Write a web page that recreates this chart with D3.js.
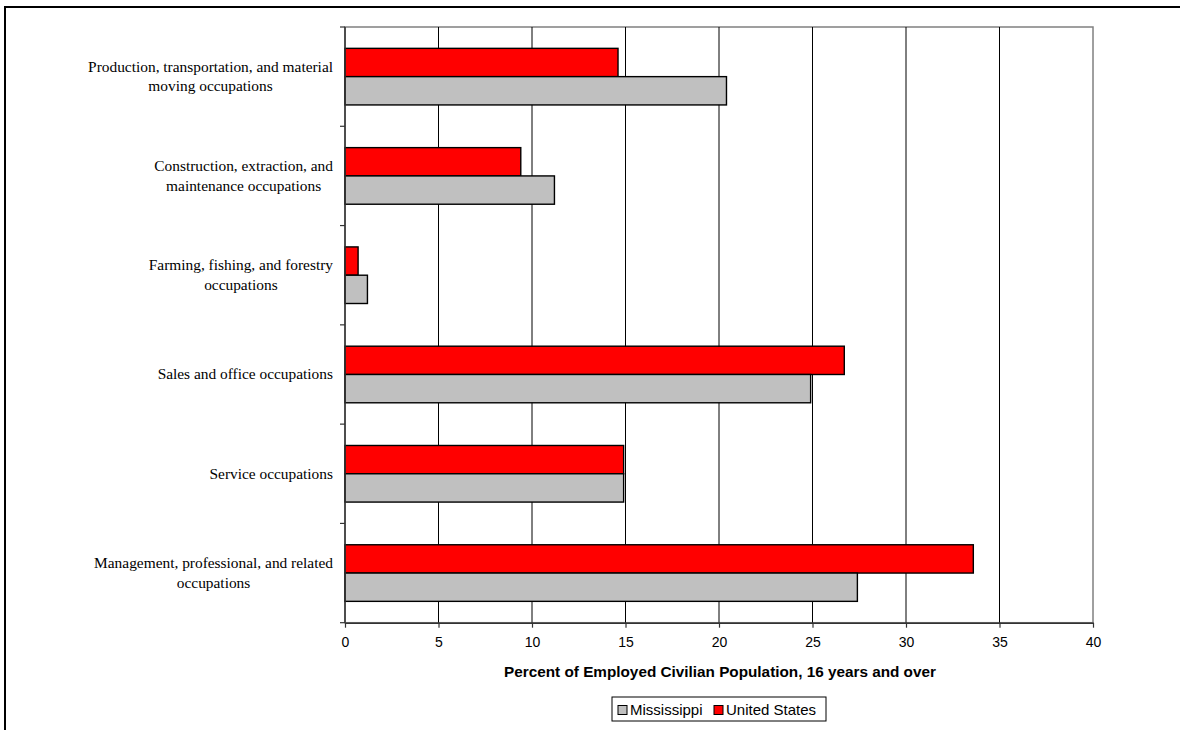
<!DOCTYPE html>
<html>
<head>
<meta charset="utf-8">
<script src="https://cdn.jsdelivr.net/npm/d3@7"></script>
<style>
  html, body { margin: 0; padding: 0; background: #fff; }
  svg { display: block; }
</style>
</head>
<body>
<svg id="chart" width="1180" height="730"></svg>
<script>
// ---- data ----
const categories = [
  ["Production, transportation, and material", "moving occupations"],
  ["Construction, extraction, and", "maintenance occupations"],
  ["Farming, fishing, and forestry", "occupations"],
  ["Sales and office occupations"],
  ["Service occupations"],
  ["Management, professional, and related", "occupations"]
];
const seriesNames = ["United States", "Mississippi"];
const unitedStates = [14.6, 9.4, 0.7, 26.7, 14.9, 33.6];
const mississippi  = [20.4, 11.2, 1.2, 24.9, 14.9, 27.4];
const xTicks = [0, 5, 10, 15, 20, 25, 30, 35, 40];
const xTitle = "Percent of Employed Civilian Population, 16 years and over";
const legendItems = ["Mississippi", "United States"];
const colors = { "United States": "#ff0000", "Mississippi": "#c0c0c0" };

(function () {
// ---- layout ----
const svg = d3.select("#chart");
const pLeft = 345, pRight = 1093, pTop = 27, pBottom = 622.7;

// outer frame
svg.append("rect").attr("x", 5).attr("y", 7).attr("width", 1300).attr("height", 900)
  .attr("fill", "none").attr("stroke", "#000").attr("stroke-width", 2);

const x = d3.scaleLinear().domain([0, 40]).range([pLeft, pRight]);
const keys = categories.map((c, i) => i);
const y = d3.scaleBand().domain(keys).range([pTop, pBottom]).paddingInner(0.43).paddingOuter(0.215);
const yOuter = d3.scaleBand().domain(keys).range([pTop, pBottom]);
const ySub = d3.scaleBand().domain(seriesNames).range([0, y.bandwidth()]);

// plot area border (gray)
svg.append("rect").attr("x", pLeft).attr("y", pTop).attr("width", pRight - pLeft).attr("height", pBottom - pTop)
  .attr("fill", "none").attr("stroke", "#808080").attr("stroke-width", 1.5);

// gridlines
svg.append("g").selectAll("line").data(xTicks.filter(t => t > 0 && t < 40)).join("line")
  .attr("x1", d => x(d)).attr("x2", d => x(d)).attr("y1", pTop).attr("y2", pBottom)
  .attr("stroke", "#000").attr("stroke-width", 1);

// bars
const rows = keys.map(i => ({ i, vals: [
  { s: "United States", v: unitedStates[i] },
  { s: "Mississippi", v: mississippi[i] }
]}));
const g = svg.append("g").selectAll("g").data(rows).join("g")
  .attr("transform", d => `translate(0,${y(d.i)})`);
g.selectAll("rect").data(d => d.vals).join("rect")
  .attr("x", x(0)).attr("y", d => ySub(d.s))
  .attr("width", d => x(d.v) - x(0)).attr("height", ySub.bandwidth())
  .attr("fill", d => colors[d.s]).attr("stroke", "#000").attr("stroke-width", 1.4);

// x axis
const xAxis = svg.append("g").attr("transform", `translate(0,${pBottom})`)
  .call(d3.axisBottom(x).tickValues(xTicks).tickSize(5).tickSizeOuter(0).tickPadding(9));
xAxis.select(".domain").attr("stroke", "#333").attr("stroke-width", 1.5);
xAxis.selectAll(".tick line").attr("stroke", "#333").attr("stroke-width", 1.2);
xAxis.selectAll(".tick text").attr("font-family", "Liberation Sans, Arial, sans-serif")
  .attr("font-size", 14).attr("fill", "#000");

// y axis (ticks between categories)
const yAxisG = svg.append("g");
yAxisG.append("line").attr("x1", pLeft).attr("x2", pLeft).attr("y1", pTop).attr("y2", pBottom)
  .attr("stroke", "#333").attr("stroke-width", 1.5);
const boundaries = keys.map(i => yOuter(i)).concat([pBottom]);
yAxisG.selectAll("line.t").data(boundaries).join("line").attr("class", "t")
  .attr("x1", pLeft - 5).attr("x2", pLeft).attr("y1", d => d).attr("y2", d => d)
  .attr("stroke", "#333").attr("stroke-width", 1.2);

// category labels: block right-aligned at 333, lines centred within the block
const labelRight = 333;
const labels = svg.append("g").selectAll("text").data(keys).join("text")
  .attr("text-anchor", "middle")
  .attr("font-family", "Liberation Serif, 'Times New Roman', serif")
  .attr("font-size", 15.4).attr("fill", "#000");
labels.each(function(i) {
  const lines = categories[i];
  const cy = yOuter(i) + yOuter.bandwidth() / 2;
  const lh = 19.5;
  const sel = d3.select(this);
  const spans = lines.map((t, k) => sel.append("tspan")
      .attr("y", cy + (k - (lines.length - 1) / 2) * lh + 5).text(t));
  const maxW = d3.max(spans, s => s.node().getComputedTextLength());
  spans.forEach(s => s.attr("x", labelRight - maxW / 2));
});

// x title
svg.append("text").attr("x", 720).attr("y", 677).attr("text-anchor", "middle")
  .attr("font-family", "Liberation Sans, Arial, sans-serif").attr("font-weight", "bold")
  .attr("font-size", 15.3).text(xTitle);

// legend
const lg = svg.append("g");
lg.append("rect").attr("x", 612).attr("y", 697).attr("width", 214).attr("height", 24)
  .attr("fill", "#fff").attr("stroke", "#000").attr("stroke-width", 1);
const legendX = [618, 714];
legendItems.forEach((name, k) => {
  lg.append("rect").attr("x", legendX[k]).attr("y", 705.5).attr("width", 9).attr("height", 9)
    .attr("fill", colors[name]).attr("stroke", "#000").attr("stroke-width", 1);
  lg.append("text").attr("x", legendX[k] + 12).attr("y", 715)
    .attr("font-family", "Liberation Sans, Arial, sans-serif").attr("font-size", 15)
    .text(name);
});
})();
</script>
</body>
</html>
